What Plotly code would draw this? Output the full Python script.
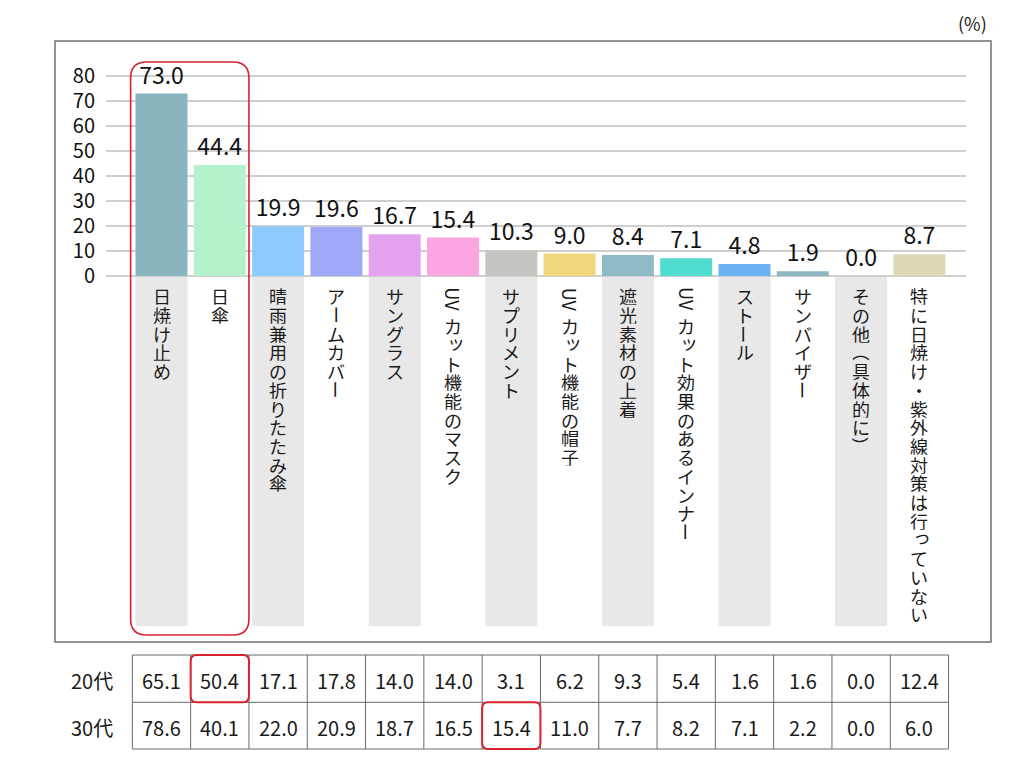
import plotly.graph_objects as go

# ---------------- data ----------------
categories = [
    "日焼け止め", "日傘", "晴雨兼用の折りたたみ傘", "アームカバー", "サングラス",
    "UV カット機能のマスク", "サプリメント", "UV カット機能の帽子", "遮光素材の上着",
    "UV カット効果のあるインナー", "ストール", "サンバイザー", "その他（具体的に）",
    "特に日焼け・紫外線対策は行っていない",
]
totals = [73.0, 44.4, 19.9, 19.6, 16.7, 15.4, 10.3, 9.0, 8.4, 7.1, 4.8, 1.9, 0.0, 8.7]
age_groups = ["20代", "30代"]
vals_20s = [65.1, 50.4, 17.1, 17.8, 14.0, 14.0, 3.1, 6.2, 9.3, 5.4, 1.6, 1.6, 0.0, 12.4]
vals_30s = [78.6, 40.1, 22.0, 20.9, 18.7, 16.5, 15.4, 11.0, 7.7, 8.2, 7.1, 2.2, 0.0, 6.0]
y_ticks = [0, 10, 20, 30, 40, 50, 60, 70, 80]
unit_label = "(%)"
highlight_cells = [(0, 1), (1, 6)]   # (row, column)
highlight_bars = [0, 1]

bar_colors = ["#89b5bf", "#b5f1cd", "#8fcafc", "#9ea8f8", "#e2a2ee", "#fba5e1", "#c5c6c2",
              "#f2d67c", "#8fbbc6", "#50ddd0", "#6cb3f4", "#8eb6c0", "#cccccc", "#ddd9b5"]

# ---------------- layout helpers ----------------
W, H = 1024, 760
FONT = "Noto Sans CJK JP, Noto Sans, sans-serif"
RED = "#d8232f"
C0, PITCH = 161.5, 58.3          # pixel centre of first category, spacing
PLOT_L, PLOT_R = 106, 966
BASE_PX, PX_PER_UNIT = 276, 2.5
Y_TOP_PX, Y_BOT_PX = 50, 626

def px_x(px):
    return px / W

def px_y(py):
    return 1 - py / H

def data_x(px):
    return (px - C0) / PITCH

n = len(categories)
idx = list(range(n))

fig = go.Figure()
fig.add_trace(go.Bar(
    x=idx, y=totals, width=52 / PITCH,
    marker=dict(color=bar_colors, line=dict(width=0)),
    text=[f"{v:.1f}" for v in totals], textposition="outside",
    textfont=dict(family=FONT, size=23, color="#111111"),
    cliponaxis=False, constraintext="none", hoverinfo="skip",
))

shapes = []
annotations = []

# grey bands behind even category labels
for i in idx:
    if i % 2 == 0:
        shapes.append(dict(type="rect", xref="x", yref="y",
                           x0=i - 26 / PITCH, x1=i + 26 / PITCH,
                           y0=-(Y_BOT_PX - BASE_PX) / PX_PER_UNIT, y1=0,
                           fillcolor="#e8e8e8", line=dict(width=0), layer="below"))

# outer frame
shapes.append(dict(type="rect", xref="paper", yref="paper",
                   x0=px_x(55), x1=px_x(991), y0=px_y(642), y1=px_y(41),
                   line=dict(color="#707070", width=1.5), fillcolor="rgba(0,0,0,0)"))

def rounded(x0, x1, y0, y1, rx, ry):
    # x in data units, y in paper units (y0 bottom, y1 top)
    return (f"M {x0+rx},{y1} L {x1-rx},{y1} Q {x1},{y1} {x1},{y1-ry} "
            f"L {x1},{y0+ry} Q {x1},{y0} {x1-rx},{y0} "
            f"L {x0+rx},{y0} Q {x0},{y0} {x0},{y0+ry} "
            f"L {x0},{y1-ry} Q {x0},{y1} {x0+rx},{y1} Z")

# red rounded box around highlighted bars
hb0, hb1 = min(highlight_bars), max(highlight_bars)
shapes.append(dict(type="path", xref="x", yref="paper",
                   path=rounded(hb0 - 0.53, hb1 + 0.5, px_y(635), px_y(62),
                                16 / PITCH, 16 / H),
                   line=dict(color=RED, width=1.6)))

# ---------------- vertical category labels (one glyph per cell) ----------------
LABEL_FS = 18
ADV = 18.7
SMALL = set("ッっャュョゃゅょァィゥェォぁぃぅぇぉ")
ROTATE = set("ー（）〜")
for i, label in enumerate(categories):
    pos = 287.0
    k = 0
    while k < len(label):
        ch = label[k]
        if ch.isascii() and ch.isalpha():
            j = k
            while j < len(label) and label[j].isascii() and label[j].isalpha():
                j += 1
            run = label[k:j]
            length = 0.68 * LABEL_FS * len(run)
            annotations.append(dict(x=i, y=px_y(pos + length / 2), xref="x", yref="paper",
                                    text=run, textangle=90, showarrow=False,
                                    xanchor="center", yanchor="middle", height=ADV - 1,
                                    font=dict(family=FONT, size=LABEL_FS, color="#1a1a1a")))
            pos += length
            k = j
            continue
        if ch == " ":
            pos += 0.3 * LABEL_FS
            k += 1
            continue
        a = dict(x=i, y=px_y(pos + ADV / 2), xref="x", yref="paper", text=ch,
                 showarrow=False, xanchor="center", yanchor="middle", height=ADV - 1,
                 font=dict(family=FONT, size=LABEL_FS, color="#1a1a1a"))
        if ch in ROTATE:
            a["textangle"] = 90
        if ch in SMALL:
            a["xshift"] = 3
            a["yshift"] = 3
        annotations.append(a)
        pos += ADV
        k += 1

# ---------------- table ----------------
row_px = [655, 702.3, 749]
tbl_x0, tbl_x1 = -0.5, n - 0.5
for py in row_px:
    shapes.append(dict(type="line", xref="x", yref="paper", x0=tbl_x0, x1=tbl_x1,
                       y0=px_y(py), y1=px_y(py), line=dict(color="#6a6a6a", width=1)))
for c in range(n + 1):
    shapes.append(dict(type="line", xref="x", yref="paper", x0=c - 0.5, x1=c - 0.5,
                       y0=px_y(row_px[0]), y1=px_y(row_px[-1]),
                       line=dict(color="#6a6a6a", width=1)))

for r, (grp, row_vals) in enumerate(zip(age_groups, [vals_20s, vals_30s])):
    cy = (row_px[r] + row_px[r + 1]) / 2 + 2
    annotations.append(dict(x=px_x(92), y=px_y(cy), xref="paper", yref="paper", text=grp,
                            showarrow=False, xanchor="center", yanchor="middle",
                            font=dict(family=FONT, size=20, color="#1a1a1a")))
    for c, v in enumerate(row_vals):
        annotations.append(dict(x=c, y=px_y(cy), xref="x", yref="paper", text=f"{v:.1f}",
                                showarrow=False, xanchor="center", yanchor="middle",
                                font=dict(family=FONT, size=20, color="#1a1a1a")))

for r, c in highlight_cells:
    shapes.append(dict(type="path", xref="x", yref="paper",
                       path=rounded(c - 0.5, c + 0.5, px_y(row_px[r + 1]), px_y(row_px[r]),
                                    6 / PITCH, 6 / H),
                       line=dict(color=RED, width=2)))

annotations.append(dict(x=px_x(972), y=px_y(23), xref="paper", yref="paper", text=unit_label,
                        showarrow=False, xanchor="center", yanchor="middle",
                        font=dict(family=FONT, size=18, color="#1a1a1a")))

fig.update_layout(
    width=W, height=H, margin=dict(l=0, r=0, t=0, b=0),
    paper_bgcolor="white", plot_bgcolor="rgba(0,0,0,0)", showlegend=False,
    xaxis=dict(domain=[px_x(PLOT_L), px_x(PLOT_R)],
               range=[data_x(PLOT_L), data_x(PLOT_R)],
               showticklabels=False, showgrid=False, zeroline=False, fixedrange=True),
    yaxis=dict(domain=[px_y(Y_BOT_PX), px_y(Y_TOP_PX)],
               range=[-(Y_BOT_PX - BASE_PX) / PX_PER_UNIT, (BASE_PX - Y_TOP_PX) / PX_PER_UNIT],
               tickvals=y_ticks, ticktext=[str(t) for t in y_ticks],
               showgrid=True, gridcolor="#cfcfcf", gridwidth=1.5, zeroline=False,
               ticks="", ticklabelstandoff=10,
               tickfont=dict(family=FONT, size=20, color="#111111"), fixedrange=True),
    shapes=shapes, annotations=annotations,
    font=dict(family=FONT),
)

fig.write_html("out.html")
